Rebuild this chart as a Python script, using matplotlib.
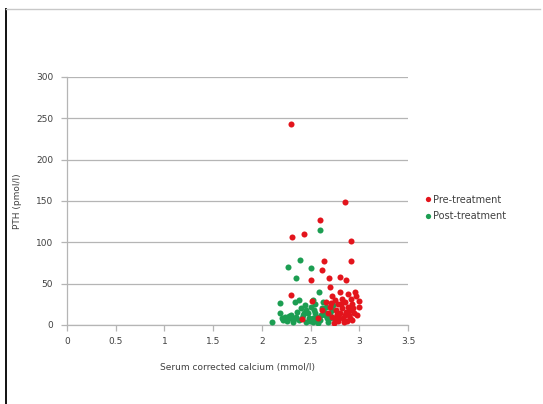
import matplotlib
matplotlib.use("Agg")
import matplotlib.pyplot as plt
from matplotlib.lines import Line2D

# Serum corrected calcium (mmol/l) vs PTH (pmol/l)
pre_calcium = [2.30, 2.85, 2.60, 2.31, 2.43, 2.91, 2.64, 2.91, 2.62, 2.50,
               2.69, 2.80, 2.86, 2.70, 2.96, 2.30, 2.51, 2.41,
               2.75, 2.78, 2.82, 2.85, 2.88, 2.90, 2.93, 2.95, 3.00, 3.00,
               2.98, 2.80, 2.76, 2.72, 2.70, 2.68, 2.83, 2.87, 2.90, 2.93,
               2.78, 2.74, 2.66, 2.85, 2.92, 2.88, 2.80, 2.72, 2.97, 2.62, 2.58,
               2.82, 2.86, 2.89, 2.79, 2.84, 2.77, 2.94, 2.81, 2.75, 2.71]
pre_pth = [243, 149, 127, 106, 110, 102, 78, 78, 67, 54,
           57, 58, 54, 46, 40, 36, 29, 7,
           30, 25, 32, 28, 22, 18, 25, 15, 29, 22,
           12, 15, 18, 10, 22, 14, 8, 5, 8, 6,
           5, 3, 28, 12, 32, 38, 40, 35, 35, 18, 8,
           20, 16, 12, 9, 4, 13, 20, 26, 8, 27]

post_calcium = [2.60, 2.39, 2.27, 2.50, 2.35, 2.59, 2.38, 2.34, 2.19, 2.10,
                2.19, 2.24, 2.29, 2.22, 2.26, 2.32, 2.35, 2.38, 2.42, 2.45,
                2.48, 2.50, 2.52, 2.55, 2.57, 2.60, 2.62, 2.65, 2.68, 2.70,
                2.72, 2.75, 2.45, 2.40, 2.55, 2.63, 2.30, 2.47, 2.53, 2.58,
                2.66, 2.36, 2.44, 2.52, 2.78, 2.73,
                2.21, 2.28, 2.33, 2.41, 2.49, 2.56, 2.61, 2.67, 2.43, 2.54, 2.64, 2.70]
post_pth = [115, 79, 70, 69, 57, 40, 30, 28, 27, 4,
            14, 10, 8, 6, 5, 4, 10, 6, 12, 18,
            8, 22, 4, 15, 10, 6, 20, 12, 4, 8,
            18, 6, 4, 20, 25, 28, 12, 14, 9, 3,
            22, 16, 24, 30, 12, 24,
            9, 11, 7, 8, 5, 7, 12, 9, 15, 18, 16, 14]

x_ticks = [0, 0.5, 1, 1.5, 2, 2.5, 3, 3.5]
x_tick_labels = ["0", "0.5", "1", "1.5", "2", "2.5", "3", "3.5"]
y_ticks = [0, 50, 100, 150, 200, 250, 300]

RED = "#e3141c"
GREEN = "#1c9e52"
GRID = "#b5b5b5"
TEXT = "#404040"

fig = plt.figure(figsize=(5.43, 4.04), dpi=100)
ax = fig.add_axes([67 / 543, 1 - 325 / 404, (408 - 67) / 543, (325 - 77) / 404])

ax.scatter(post_calcium, post_pth, s=19, color=GREEN, linewidths=0, zorder=3,
           label="Post-treatment")
ax.scatter(pre_calcium, pre_pth, s=19, color=RED, linewidths=0, zorder=3,
           label="Pre-treatment")

ax.set_xlim(0, 3.5)
ax.set_ylim(0, 300)
ax.set_xticks(x_ticks)
ax.set_xticklabels(x_tick_labels)
ax.set_yticks(y_ticks)

ax.grid(axis="y", color=GRID, linewidth=0.9)
ax.set_axisbelow(True)
for side in ("top", "right"):
    ax.spines[side].set_visible(False)
for side in ("left", "bottom"):
    ax.spines[side].set_color(GRID)
    ax.spines[side].set_linewidth(0.9)
ax.tick_params(axis="both", colors=GRID, labelcolor=TEXT, labelsize=6.5,
               length=4, width=0.9, direction="out")
ax.tick_params(axis="y", pad=6)
ax.tick_params(axis="x", pad=5)

ax.set_xlabel("Serum corrected calcium (mmol/l)", fontsize=6.5, color=TEXT,
              labelpad=12)
ax.set_ylabel("PTH (pmol/l)", fontsize=6.5, color=TEXT, labelpad=10)

handles = [
    Line2D([], [], linestyle="none", marker="o", markersize=3.8,
           markerfacecolor=RED, markeredgewidth=0, label="Pre-treatment"),
    Line2D([], [], linestyle="none", marker="o", markersize=3.8,
           markerfacecolor=GREEN, markeredgewidth=0, label="Post-treatment"),
]
fig.legend(handles=handles, loc="upper left", bbox_to_anchor=(414 / 543, 1 - 186 / 404),
           frameon=False, fontsize=7, handletextpad=0.1, labelspacing=0.65,
           handlelength=1.0, labelcolor=TEXT)

# frame around the chart area
fig.add_artist(Line2D([6 / 543, 6 / 543], [0, 1 - 9 / 404], transform=fig.transFigure,
                      color="#111111", linewidth=1.4))
fig.add_artist(Line2D([6 / 543, 540 / 543], [1 - 9 / 404, 1 - 9 / 404],
                      transform=fig.transFigure, color="#c8c8c8", linewidth=1.0))

fig.savefig("out.png", dpi=100)
